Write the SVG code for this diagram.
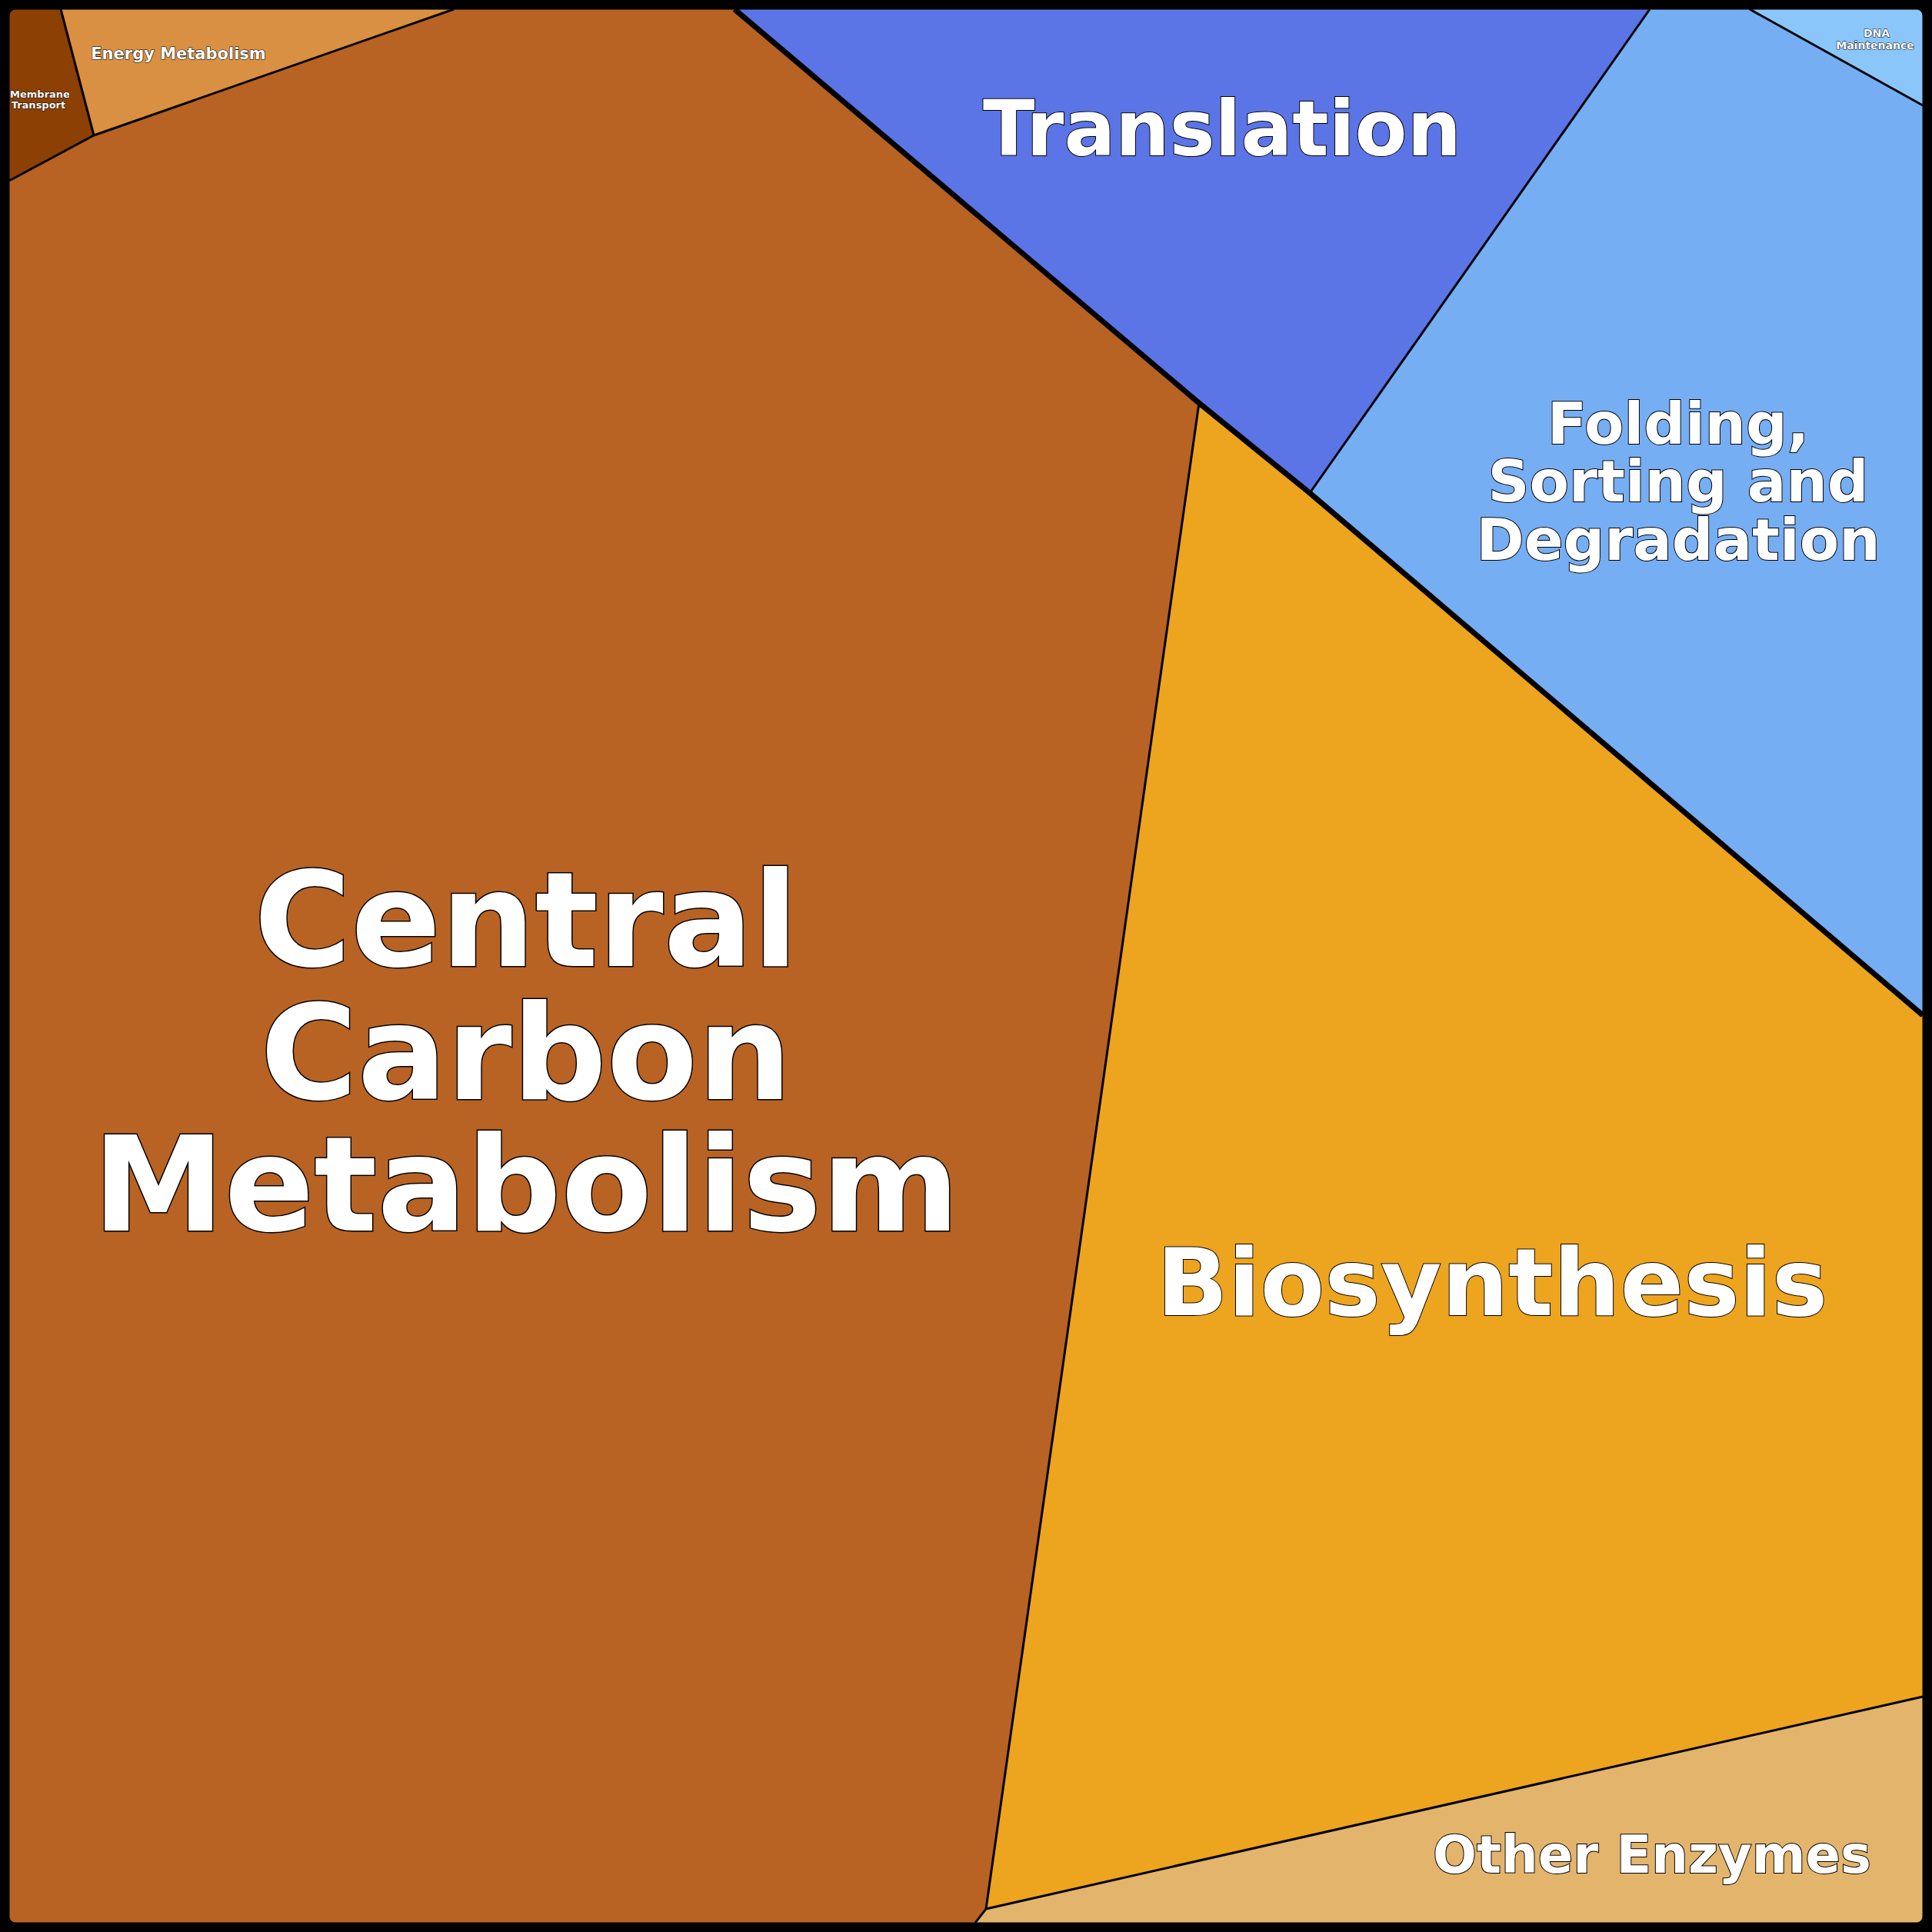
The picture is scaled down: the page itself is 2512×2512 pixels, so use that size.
<svg xmlns="http://www.w3.org/2000/svg" width="2512" height="2512" viewBox="0 0 2512 2512">
<style>
.t{font-family:"DejaVu Sans",sans-serif;font-weight:bold;fill:#fff;stroke:#000;text-anchor:middle;paint-order:stroke}
.e{stroke:#000;fill:none;stroke-linejoin:round}
</style>
<rect x="0" y="0" width="2512" height="2512" fill="#000"/>
<g id="central"><polygon points="12,235 122,176 590,12 955,12 1559,524 1282,2482 1268,2500 12,2500" fill="#B86323"/>
<text class="t" font-size="172" stroke-width="3" x="684" y="1256">Central</text>
<text class="t" font-size="172" stroke-width="3" x="684" y="1429">Carbon</text>
<text class="t" font-size="172" stroke-width="3" x="684" y="1600">Metabolism</text></g>
<g id="membrane"><polygon points="12,12 79,12 122,176 12,235" fill="#8C4004"/>
<text class="t" font-size="13" stroke-width="1" x="52" y="127">Membrane</text>
<text class="t" font-size="13" stroke-width="1" x="50" y="141">Transport</text></g>
<g id="energy"><polygon points="79,12 590,12 122,176" fill="#D99043"/>
<text class="t" font-size="21" stroke-width="1.2" x="232" y="77">Energy Metabolism</text></g>
<g id="translation"><polygon points="955,12 2145,12 1703,641 1559,524" fill="#5B75E6"/>
<text class="t" font-size="99" stroke-width="2" x="1589" y="202">Translation</text></g>
<g id="folding"><polygon points="2145,12 2275,12 2500,137 2500,1320 1703,641" fill="#76AEF4"/>
<text class="t" font-size="75" stroke-width="2" x="2182" y="577">Folding,</text>
<text class="t" font-size="75" stroke-width="2" x="2182" y="652">Sorting and</text>
<text class="t" font-size="75" stroke-width="2" x="2182" y="728">Degradation</text></g>
<g id="dna"><polygon points="2275,12 2500,12 2500,137" fill="#8AC6FA"/>
<text class="t" font-size="14" stroke-width="1" x="2440" y="48">DNA</text>
<text class="t" font-size="14" stroke-width="1" x="2438" y="64">Maintenance</text></g>
<g id="biosynthesis"><polygon points="1559,524 1703,641 2500,1320 2500,2206 1282,2482" fill="#EDA41F"/>
<text class="t" font-size="122" stroke-width="2" x="1940" y="1710">Biosynthesis</text></g>
<g id="other"><polygon points="1282,2482 2500,2206 2500,2500 1268,2500" fill="#E3B46C"/>
<text class="t" font-size="67" stroke-width="2" x="2148" y="2435">Other Enzymes</text></g>
<g id="edges">
<path class="e" style="stroke-width:3" d="M79,12 L122,176 L12,235 M122,176 L590,12 M1559,524 L1282,2482 L1268,2500 M1282,2482 L2500,2206 M2145,12 L1703,641 M2275,12 L2500,137"/>
<path class="e" style="stroke-width:7" d="M955,12 L1559,524 L1703,641 L2500,1320"/>
</g>
<rect x="6" y="6" width="2500" height="2500" rx="14" fill="none" stroke="#000" stroke-width="13"/>
</svg>
